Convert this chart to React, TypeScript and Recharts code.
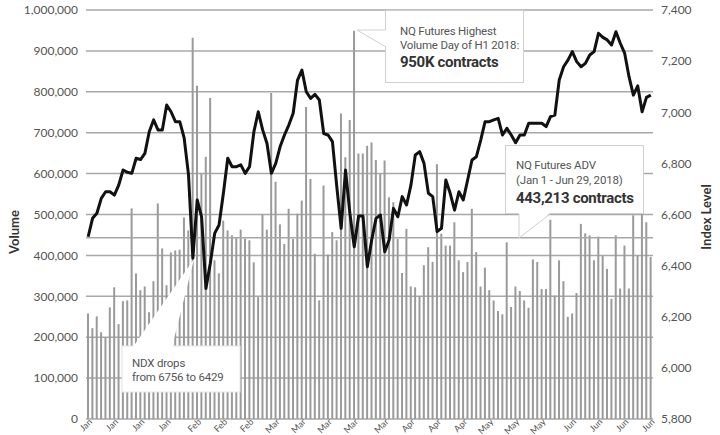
import {
  Bar,
  CartesianGrid,
  ComposedChart,
  Line,
  ReferenceLine,
  XAxis,
  YAxis,
} from 'recharts';

// daily NQ futures volume, thousands of contracts (Jan 2 - Jun 29, 2018)
const volumeK = [
  258, 222, 251, 212, 200, 273, 322, 232, 288, 290, 515, 356, 315, 324, 261, 337, 527, 417, 327, 407,
  412, 414, 493, 461, 932, 815, 600, 641, 785, 388, 356, 485, 461, 449, 444, 463, 441, 437, 383, 298,
  500, 463, 797, 580, 476, 428, 514, 440, 502, 534, 763, 587, 404, 290, 571, 402, 457, 437, 747, 640,
  731, 949, 649, 649, 668, 676, 633, 599, 632, 542, 530, 440, 357, 465, 324, 322, 300, 376, 420, 384,
  623, 453, 424, 424, 481, 388, 359, 384, 514, 408, 324, 370, 315, 290, 264, 256, 432, 274, 324, 313,
  290, 272, 390, 384, 318, 318, 487, 302, 388, 337, 250, 258, 308, 477, 454, 449, 388, 446, 400, 367,
  294, 449, 319, 424, 319, 498, 400, 502, 481, 396,
];

// NDX index level, same days
const ndxLevel = [
  6513, 6585, 6605, 6663, 6689, 6689, 6676, 6715, 6774, 6765, 6761, 6820, 6815, 6839, 6924, 6970, 6931, 6931, 7028, 7002,
  6963, 6963, 6900, 6756, 6429, 6657, 6591, 6311, 6409, 6526, 6559, 6683, 6820, 6787, 6787, 6794, 6761, 6787, 6924, 7002,
  6931, 6878, 6761, 6800, 6865, 6911, 6950, 6996, 7126, 7165, 7080, 7054, 7070, 7048, 6917, 6911, 6885, 6709, 6546, 6774,
  6605, 6474, 6594, 6594, 6396, 6500, 6585, 6598, 6454, 6500, 6624, 6591, 6670, 6637, 6715, 6833, 6846, 6800, 6683, 6670,
  6533, 6546, 6735, 6683, 6617, 6689, 6657, 6735, 6813, 6826, 6891, 6963, 6963, 6970, 6976, 6911, 6937, 6911, 6881, 6911,
  6911, 6957, 6957, 6957, 6957, 6944, 6983, 6989, 7126, 7178, 7204, 7237, 7198, 7178, 7191, 7224, 7237, 7309, 7293, 7283,
  7263, 7315, 7270, 7231, 7139, 7067, 7103, 7002, 7058, 7067,
];

const tickDays = [0, 6, 12, 18, 25, 31, 37, 43, 49, 55, 61, 68, 74, 80, 86, 92, 98, 104, 111, 117, 123, 129];
const tickMonths = [
  'Jan', 'Jan', 'Jan', 'Jan', 'Feb', 'Feb', 'Feb', 'Mar', 'Mar', 'Mar', 'Mar',
  'Mar', 'Apr', 'Apr', 'Apr', 'May', 'May', 'May', 'Jun', 'Jun', 'Jun', 'Jun',
];
const volumeTicks = [0, 100, 200, 300, 400, 500, 600, 700, 800, 900, 1000];
const indexTicks = [5800, 6000, 6200, 6400, 6600, 6800, 7000, 7200, 7400];
const advK = 443.213;

const data = volumeK.map((v, i) => ({ day: i, volume: v, ndx: ndxLevel[i] }));

const tickStyle = { fontSize: 12, fill: '#555', fontFamily: 'Lato' };
const noteStyle = { fontSize: 11.5, fill: '#555', fontFamily: 'Roboto', letterSpacing: -0.2 };
const boldStyle = { fontSize: 15, fill: '#333', fontFamily: 'Roboto', fontWeight: 700, letterSpacing: -0.3 };

const Notes = () => (
  <svg
    width={720}
    height={435}
    style={{ position: 'absolute', left: 0, top: 0, pointerEvents: 'none' }}
  >
    {/* highest volume day */}
    <rect x={385.5} y={10.5} width={138} height={72} fill="#fff" stroke="#d0d0d0" />
    <polygon points="357,30 386,30 386,47" fill="#fff" />
    <polyline points="386,30 357,30 386,47" fill="none" stroke="#d0d0d0" />
    <text x={400} y={35} style={noteStyle}>NQ Futures Highest</text>
    <text x={400} y={49} style={noteStyle}>Volume Day of H1 2018:</text>
    <text x={400} y={67} style={boldStyle}>950K contracts</text>

    {/* ADV */}
    <rect x={505.5} y={145.5} width={138} height={68} fill="#fff" stroke="#d0d0d0" />
    <polygon points="519,213 550,213 519,238" fill="#fff" />
    <polyline points="519,214 519,238 550,214" fill="none" stroke="#d0d0d0" />
    <text x={516} y={169} style={noteStyle}>NQ Futures ADV</text>
    <text x={516} y={184} style={noteStyle}>(Jan 1 - Jun 29, 2018)</text>
    <text x={516} y={203} style={boldStyle}>443,213 contracts</text>

    {/* NDX drop */}
    <rect x={122} y={346} width={118} height={46} fill="#fff" stroke="#e6e6e6" />
    <polygon points="133,347 172,347 194,259" fill="#fff" />
    <text x={132} y={367} style={noteStyle}>NDX drops</text>
    <text x={132} y={381} style={noteStyle}>from 6756 to 6429</text>

    <text
      transform="translate(14,232) rotate(-90)"
      textAnchor="middle"
      dominantBaseline="central"
      style={{ fontSize: 13, fontWeight: 700, fill: '#333', fontFamily: 'Lato' }}
    >
      Volume
    </text>
    <text
      transform="translate(706,217) rotate(-90)"
      textAnchor="middle"
      dominantBaseline="central"
      style={{ fontSize: 13, fontWeight: 700, fill: '#333', fontFamily: 'Lato' }}
    >
      Index Level
    </text>
  </svg>
);

export default function App() {
  return (
    <div
      style={{
        position: 'absolute',
        left: 0,
        top: 0,
        width: 720,
        height: 435,
        background: '#fff',
        fontFamily: 'Lato',
      }}
    >
      <ComposedChart
        width={720}
        height={435}
        data={data}
        margin={{ top: 10, right: 0, bottom: 0, left: 0 }}
      >
        <CartesianGrid yAxisId="vol" vertical={false} stroke="#a8a8a8" strokeWidth={1.5} />
        <XAxis
          dataKey="day"
          ticks={tickDays}
          interval={0}
          tickFormatter={(d) => tickMonths[tickDays.indexOf(d)] ?? ''}
          angle={-45}
          textAnchor="end"
          height={16}
          tickSize={0}
          tickMargin={-1}
          axisLine={false}
          tickLine={false}
          tick={{ ...tickStyle, fontSize: 9 }}
        />
        <YAxis
          yAxisId="vol"
          orientation="left"
          width={86}
          domain={[0, 1000]}
          ticks={volumeTicks}
          interval={0}
          tickFormatter={(v) => (v * 1000).toLocaleString('en-US')}
          axisLine={false}
          tickLine={false}
          tick={tickStyle}
        />
        <YAxis
          yAxisId="idx"
          orientation="right"
          width={67}
          domain={[5800, 7400]}
          ticks={indexTicks}
          interval={0}
          tickFormatter={(v) => v.toLocaleString('en-US')}
          axisLine={false}
          tickLine={false}
          tick={tickStyle}
        />
        <Bar
          yAxisId="vol"
          dataKey="volume"
          fill="#9a9a9a"
          barSize={2}
          isAnimationActive={false}
        />
        <ReferenceLine yAxisId="vol" y={advK} stroke="#a8a8a8" strokeWidth={1.5} />
        <Line
          yAxisId="idx"
          dataKey="ndx"
          type="linear"
          stroke="#111"
          strokeWidth={3}
          strokeLinejoin="round"
          dot={false}
          activeDot={false}
          isAnimationActive={false}
        />
      </ComposedChart>
      <Notes />
    </div>
  );
}
